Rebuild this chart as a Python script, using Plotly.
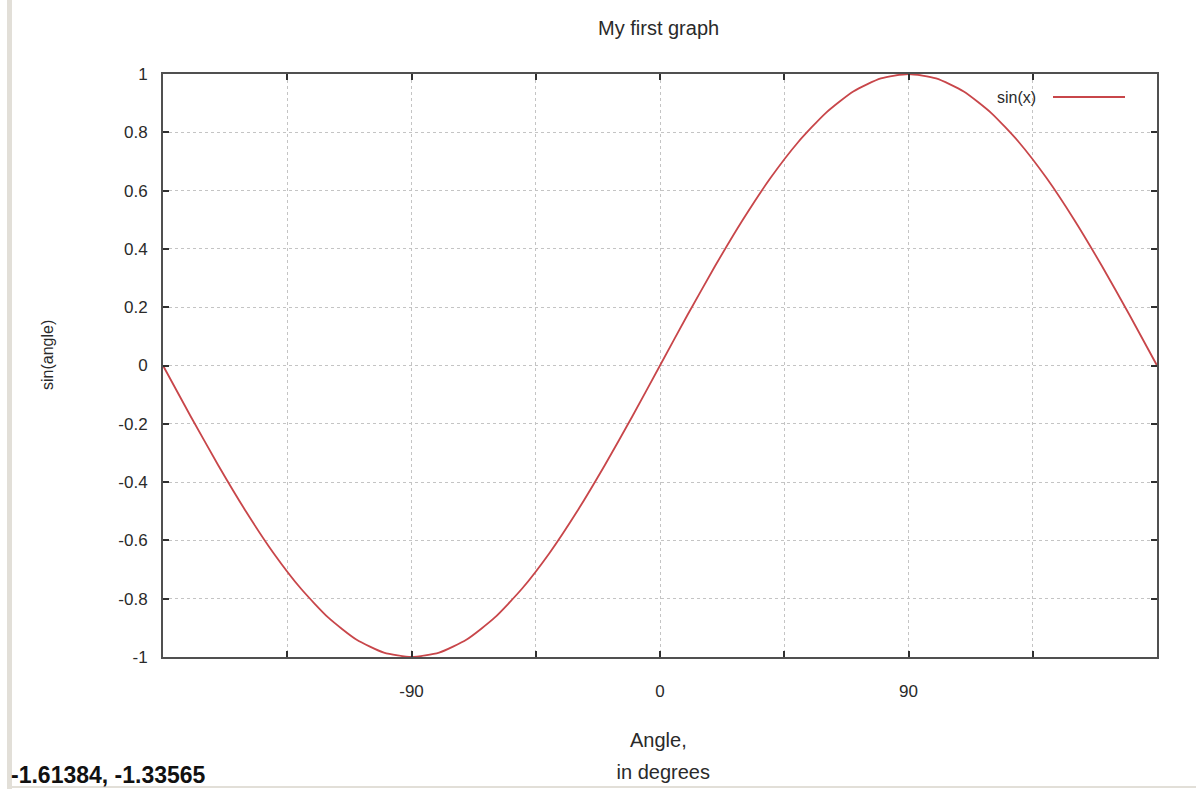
import plotly.graph_objects as go

# Sampled curve: angle in degrees and the sine value at each sample
angle_deg = [-180, -170, -160, -150, -140, -130, -120, -110, -100, -90,
             -80, -70, -60, -50, -40, -30, -20, -10, 0,
             10, 20, 30, 40, 50, 60, 70, 80, 90,
             100, 110, 120, 130, 140, 150, 160, 170, 180]
sin_vals = [0.0, -0.174, -0.342, -0.5, -0.643, -0.766, -0.866, -0.940, -0.985, -1.0,
            -0.985, -0.940, -0.866, -0.766, -0.643, -0.5, -0.342, -0.174, 0.0,
            0.174, 0.342, 0.5, 0.643, 0.766, 0.866, 0.940, 0.985, 1.0,
            0.985, 0.940, 0.866, 0.766, 0.643, 0.5, 0.342, 0.174, 0.0]

x_tickvals = [-135, -90, -45, 0, 45, 90, 135]
x_ticktext = ["", "-90", "", "0", "", "90", ""]
y_tickvals = [1, 0.8, 0.6, 0.4, 0.2, 0, -0.2, -0.4, -0.6, -0.8, -1]
y_ticktext = ["1", "0.8", "0.6", "0.4", "0.2", "0", "-0.2", "-0.4", "-0.6", "-0.8", "-1"]

FONT = "Liberation Sans, Arial, sans-serif"
TXT = "#2a2a2a"
LINE_RED = "#c8464a"

fig = go.Figure()
fig.add_trace(go.Scatter(
    x=angle_deg, y=sin_vals, mode="lines", name="sin(x)",
    line=dict(color=LINE_RED, width=1.8, shape="spline", smoothing=0.6),
    showlegend=False,
))

axis_common = dict(
    showline=True, linecolor="#505050", linewidth=2, mirror="allticks",
    ticks="inside", ticklen=6, tickcolor="#303030", tickwidth=1.5,
    showgrid=True, gridcolor="#c4c4c4", griddash="3px,3px", gridwidth=1,
    zeroline=False,
    tickfont=dict(family=FONT, size=17, color=TXT),
)

fig.update_xaxes(range=[-180, 180], tickmode="array", tickvals=x_tickvals,
                 ticktext=x_ticktext, ticklabelstandoff=18, **axis_common)
fig.update_yaxes(range=[-1, 1], tickmode="array", tickvals=y_tickvals,
                 ticktext=y_ticktext, ticklabelstandoff=10, **axis_common)

# Plot area spans 994 x 583 pixels; helpers convert page pixels to paper units
L, T, W, H = 163, 74, 994, 583


def px(x):
    return (x - L) / W


def py(y):
    return (T + H - y) / H


big = dict(family=FONT, size=20, color=TXT)
annotations = [
    dict(text="My first graph", x=px(658), y=py(28), font=big),
    dict(text="Angle,", x=px(658), y=py(740), font=big),
    dict(text=" in degrees", x=px(660), y=py(772), font=big),
    dict(text="sin(angle)", x=px(47), y=py(355), textangle=-90),
    dict(text="sin(x)", x=px(1038), y=py(97), xanchor="right"),
    dict(text="<b>-1.61384, -1.33565</b>", x=px(9), y=py(775), xanchor="left",
         font=dict(family=FONT, size=23, color="#111111")),
]
for a in annotations:
    a.setdefault("xanchor", "center")
    a.setdefault("font", dict(family=FONT, size=16, color=TXT))
    fig.add_annotation(xref="paper", yref="paper", yanchor="middle",
                       showarrow=False, **a)

shapes = [
    # legend sample line
    dict(type="line", x0=px(1053), x1=px(1125), y0=py(97), y1=py(97),
         line=dict(color=LINE_RED, width=1.8)),
    # window frame edges
    dict(type="rect", x0=px(7), x1=px(12), y0=py(0), y1=py(789),
         line=dict(width=0), fillcolor="#e2dfd8"),
    dict(type="line", x0=px(12), x1=px(1196), y0=py(787), y1=py(787),
         line=dict(color="#e2dfd8", width=2)),
]
for s in shapes:
    fig.add_shape(xref="paper", yref="paper", layer="above", **s)

fig.update_layout(
    width=1196, height=789,
    margin=dict(l=L, r=1196 - L - W, t=T, b=789 - T - H),
    paper_bgcolor="white", plot_bgcolor="white",
    font=dict(family=FONT, color=TXT),
)

fig.write_html("out.html")
